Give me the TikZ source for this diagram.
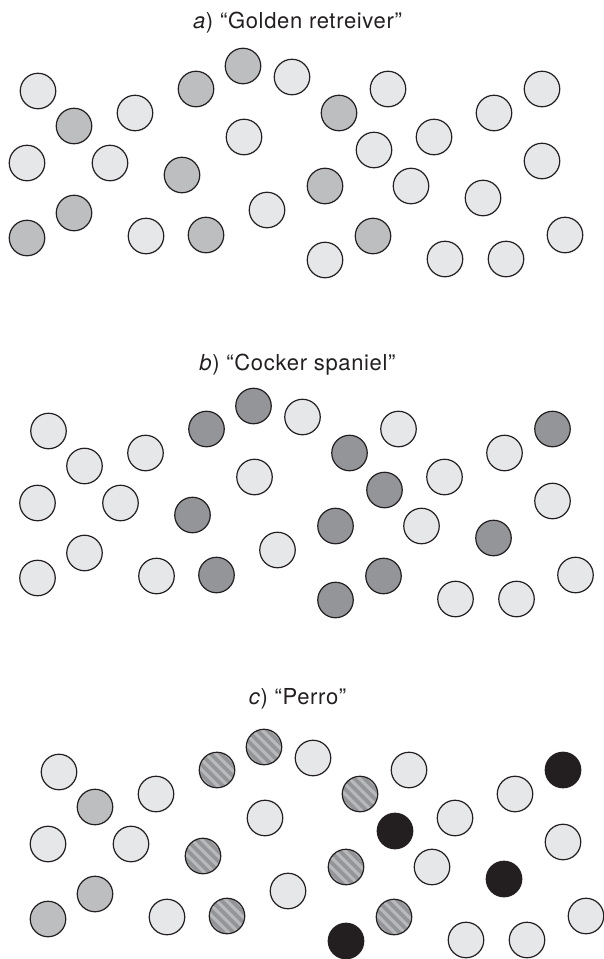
\documentclass[tikz,border=0pt]{standalone}
\usepackage{fontspec}
\newfontfamily\labfont[LetterSpace=3]{TeX Gyre Heros}
\definecolor{ink}{HTML}{231F20}
\definecolor{lightc}{HTML}{E6E7E8}
\definecolor{midc}{HTML}{BCBEC0}
\definecolor{darkc}{HTML}{939598}
\definecolor{stripelt}{HTML}{B8B9BB}
\definecolor{stripedk}{HTML}{939598}
\begin{document}
\begin{tikzpicture}[x=1pt,y=-1pt,
  circ/.style={circle, draw=ink, line width=1.2pt, minimum size=35.5pt, inner sep=0pt},
  L/.style={circ, fill=lightc},
  M/.style={circ, fill=midc},
  D/.style={circ, fill=darkc},
  K/.style={circ, fill=ink},
  H/.style={circ, fill=stripelt, path picture={
     \foreach \d in {-40,-30,...,40} {
       \draw[stripedk, line width=3.6pt] (path picture bounding box.center) ++(\d-25,-25) -- ++(50,50);
     }}},
  lab/.style={font=\labfont\fontsize{22}{24}\selectfont, text=ink, anchor=base, inner sep=0pt}]
\useasboundingbox (0,0) rectangle (604,959);

% panel a
\node[lab] (ta) at (297.5,28) {\textit{a}) “Golden retreiver”};
\foreach \n/\x/\y/\s in {
 1/38/91/L, 2/74/126/M, 3/135/113/L, 4/196/89/M, 5/243/66/M, 6/292/77/L,
 7/244/137/L, 8/27/163/L, 9/110/163/L, 10/182/175/M, 11/74/213/M, 12/27/238/M,
 13/146/236/L, 14/206/235/M, 15/267/210/L, 16/388/89/L, 17/339/113/M, 18/374/150/L,
 19/434/137/L, 20/494/113/L, 21/542/89/L, 22/542/161/L, 23/325/186/M, 24/411/186/L,
 25/483/198/L, 26/373/236/M, 27/325/260/L, 28/445/259/L, 29/506/259/L, 30/565/235/L}
 { \node[\s] (a\n) at (\x,\y) {}; }

% panel b
\node[lab] (tb) at (297.5,370) {\textit{b}) “Cocker spaniel”};
\begin{scope}[shift={(10.5,340)}]
\foreach \n/\x/\y/\s in {
 1/38/91/L, 2/74/126/L, 3/135/113/L, 4/196/89/D, 5/243/66/D, 6/292/77/L,
 7/244/137/L, 8/27/163/L, 9/110/163/L, 10/182/175/D, 11/74/213/L, 12/27/238/L,
 13/146/236/L, 14/206/235/D, 15/267/210/L, 16/388/89/L, 17/339/113/D, 18/374/150/D,
 19/434/137/L, 20/494/113/L, 21/542/89/D, 22/542/161/L, 23/325/186/D, 24/411/186/L,
 25/483/198/D, 26/373/236/D, 27/325/260/D, 28/445/259/L, 29/506/259/L, 30/565/235/L}
 { \node[\s] (b\n) at (\x,\y) {}; }
\end{scope}

% panel c
\node[lab] (tc) at (297.5,704) {\textit{c}) “Perro”};
\begin{scope}[shift={(21,681)}]
\foreach \n/\x/\y/\s in {
 1/38/91/L, 2/74/126/M, 3/135/113/L, 4/196/89/H, 5/243/66/H, 6/292/77/L,
 7/244/137/L, 8/27/163/L, 9/110/163/L, 10/182/175/H, 11/74/213/M, 12/27/238/M,
 13/146/236/L, 14/206/235/H, 15/267/210/L, 16/388/89/L, 17/339/113/H, 18/374/150/K,
 19/434/137/L, 20/494/113/L, 21/542/89/K, 22/542/161/L, 23/325/186/H, 24/411/186/L,
 25/483/198/K, 26/373/236/H, 27/325/260/K, 28/445/259/L, 29/506/259/L, 30/565/235/L}
 { \node[\s] (c\n) at (\x,\y) {}; }
\end{scope}
\end{tikzpicture}
\end{document}
